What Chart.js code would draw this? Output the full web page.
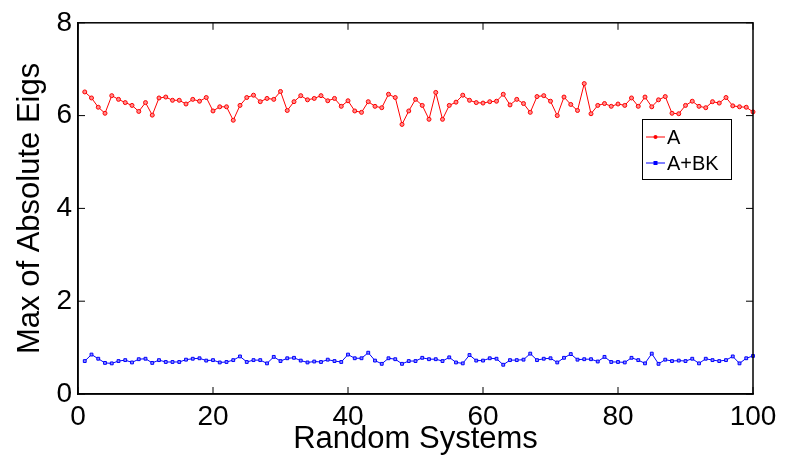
<!DOCTYPE html>
<html>
<head>
<meta charset="utf-8">
<script src="https://cdn.jsdelivr.net/npm/chart.js@4/dist/chart.umd.min.js"></script>
<style>
  html, body { margin: 0; padding: 0; background: #ffffff; }
  #wrap { width: 785px; height: 462px; }
</style>
</head>
<body>
<div id="wrap"><canvas id="c" width="785" height="462"></canvas></div>
<script>
const systems = [1,2,3,4,5,6,7,8,9,10,11,12,13,14,15,16,17,18,19,20,21,22,23,24,25,26,27,28,29,30,31,32,33,34,35,36,37,38,39,40,41,42,43,44,45,46,47,48,49,50,51,52,53,54,55,56,57,58,59,60,61,62,63,64,65,66,67,68,69,70,71,72,73,74,75,76,77,78,79,80,81,82,83,84,85,86,87,88,89,90,91,92,93,94,95,96,97,98,99,100];
const eigA = [6.51,6.38,6.18,6.05,6.43,6.35,6.28,6.22,6.09,6.28,
  6.01,6.38,6.40,6.33,6.33,6.25,6.35,6.31,6.39,6.10,
  6.19,6.19,5.90,6.22,6.39,6.44,6.30,6.37,6.35,6.52,
  6.11,6.30,6.43,6.34,6.37,6.43,6.32,6.37,6.20,6.32,
  6.10,6.07,6.30,6.20,6.17,6.46,6.39,5.81,6.10,6.35,
  6.22,5.92,6.50,5.92,6.22,6.29,6.44,6.33,6.28,6.27,
  6.30,6.31,6.46,6.23,6.35,6.26,6.07,6.41,6.43,6.31,
  6.00,6.40,6.24,6.11,6.69,6.04,6.22,6.26,6.20,6.25,
  6.22,6.38,6.20,6.40,6.19,6.34,6.41,6.05,6.04,6.22,
  6.31,6.20,6.17,6.30,6.27,6.39,6.21,6.19,6.18,6.08];
const eigABK = [0.71,0.85,0.76,0.67,0.66,0.71,0.73,0.68,0.75,0.76,
  0.67,0.73,0.69,0.69,0.69,0.74,0.76,0.77,0.72,0.73,
  0.68,0.69,0.73,0.81,0.69,0.73,0.73,0.66,0.80,0.71,
  0.77,0.78,0.72,0.68,0.70,0.69,0.74,0.71,0.69,0.85,
  0.77,0.77,0.89,0.72,0.65,0.77,0.75,0.65,0.71,0.71,
  0.78,0.75,0.75,0.71,0.79,0.68,0.66,0.84,0.72,0.72,
  0.77,0.76,0.63,0.73,0.73,0.74,0.87,0.73,0.76,0.77,
  0.68,0.78,0.86,0.74,0.75,0.75,0.70,0.80,0.69,0.69,
  0.68,0.78,0.73,0.66,0.87,0.65,0.74,0.71,0.72,0.71,
  0.76,0.66,0.76,0.73,0.71,0.73,0.81,0.66,0.77,0.82];
const seriesNames = ['A', 'A+BK'];
const xTitle = 'Random Systems';
const yTitle = 'Max of Absolute Eigs';

const FONT = '"Liberation Sans", Helvetica, Arial, sans-serif';

const boxPlugin = {
  id: 'boxTicksLegend',
  afterDraw(chart) {
    const ctx = chart.ctx;
    const a = chart.chartArea;
    const xs = chart.scales.x, ys = chart.scales.y;
    ctx.save();
    ctx.strokeStyle = '#000';
    ctx.lineWidth = 1.5;
    ctx.strokeRect(a.left, a.top, a.right - a.left, a.bottom - a.top);
    const tl = 7;
    ctx.beginPath();
    xs.ticks.forEach(t => {
      const px = xs.getPixelForValue(t.value);
      ctx.moveTo(px, a.bottom); ctx.lineTo(px, a.bottom - tl);
      ctx.moveTo(px, a.top); ctx.lineTo(px, a.top + tl);
    });
    ys.ticks.forEach(t => {
      const py = ys.getPixelForValue(t.value);
      ctx.moveTo(a.left, py); ctx.lineTo(a.left + tl, py);
      ctx.moveTo(a.right, py); ctx.lineTo(a.right - tl, py);
    });
    ctx.lineWidth = 1;
    ctx.stroke();

    // legend
    const lx = 642, ly = 119, lw = 89, lh = 60;
    ctx.fillStyle = '#fff';
    ctx.fillRect(lx, ly, lw, lh);
    ctx.strokeStyle = '#000';
    ctx.lineWidth = 1;
    ctx.strokeRect(lx + 0.5, ly + 0.5, lw, lh);
    ctx.font = '20px ' + FONT;
    ctx.textBaseline = 'middle';
    ctx.textAlign = 'left';
    chart.data.datasets.forEach((ds, i) => {
      const cy = ly + 18 + i * 26;
      ctx.strokeStyle = ds.borderColor;
      ctx.lineWidth = 1;
      ctx.beginPath();
      ctx.moveTo(lx + 4, cy); ctx.lineTo(lx + 23, cy);
      ctx.stroke();
      ctx.fillStyle = ds.borderColor;
      if (ds.pointStyle === 'rect') {
        ctx.fillRect(lx + 11.5, cy - 2, 4, 4);
      } else {
        ctx.beginPath(); ctx.arc(lx + 13.5, cy, 2, 0, Math.PI * 2); ctx.fill();
      }
      ctx.fillStyle = '#000';
      ctx.fillText(ds.label, lx + 25, cy + 1);
    });
    ctx.restore();
  }
};

new Chart(document.getElementById('c'), {
  type: 'line',
  data: {
    datasets: [
      {
        label: seriesNames[0],
        data: systems.map((s, i) => ({x: s, y: eigA[i]})),
        borderColor: '#ff0000',
        backgroundColor: 'rgba(255,120,120,1)',
        borderWidth: 1,
        pointRadius: 2,
        pointBorderWidth: 1,
        pointBorderColor: '#ff0000',
        pointBackgroundColor: 'rgba(255,140,140,1)',
        pointStyle: 'circle',
        tension: 0,
        clip: false
      },
      {
        label: seriesNames[1],
        data: systems.map((s, i) => ({x: s, y: eigABK[i]})),
        borderColor: '#0000ff',
        backgroundColor: 'rgba(120,120,255,1)',
        borderWidth: 1,
        pointRadius: 2,
        pointBorderWidth: 1,
        pointBorderColor: '#0000ff',
        pointBackgroundColor: 'rgba(140,140,255,1)',
        pointStyle: 'rect',
        tension: 0,
        clip: false
      }
    ]
  },
  options: {
    responsive: false,
    devicePixelRatio: 1,
    animation: false,
    layout: { padding: { left: 0, right: 32, top: 20, bottom: 0 } },
    plugins: { legend: { display: false }, tooltip: { enabled: false } },
    scales: {
      x: {
        type: 'linear', min: 0, max: 100,
        grid: { display: false, drawTicks: false },
        border: { display: true, color: '#000', width: 1.5 },
        ticks: { stepSize: 20, color: '#000', padding: 6, font: { family: FONT, size: 28 } },
        title: { display: true, text: xTitle, color: '#000', font: { family: FONT, size: 31 }, padding: { top: 0, bottom: 4 } },
        afterFit(s) { s.height = 68; }
      },
      y: {
        min: 0, max: 8,
        grid: { display: false, drawTicks: false },
        border: { display: true, color: '#000', width: 1.5 },
        ticks: { stepSize: 2, color: '#000', padding: 6, font: { family: FONT, size: 28 } },
        title: { display: true, text: yTitle, color: '#000', font: { family: FONT, size: 31 }, padding: { top: 12, bottom: 0 } },
        afterFit(s) { s.width = 78; }
      }
    }
  },
  plugins: [boxPlugin]
});
</script>
</body>
</html>
